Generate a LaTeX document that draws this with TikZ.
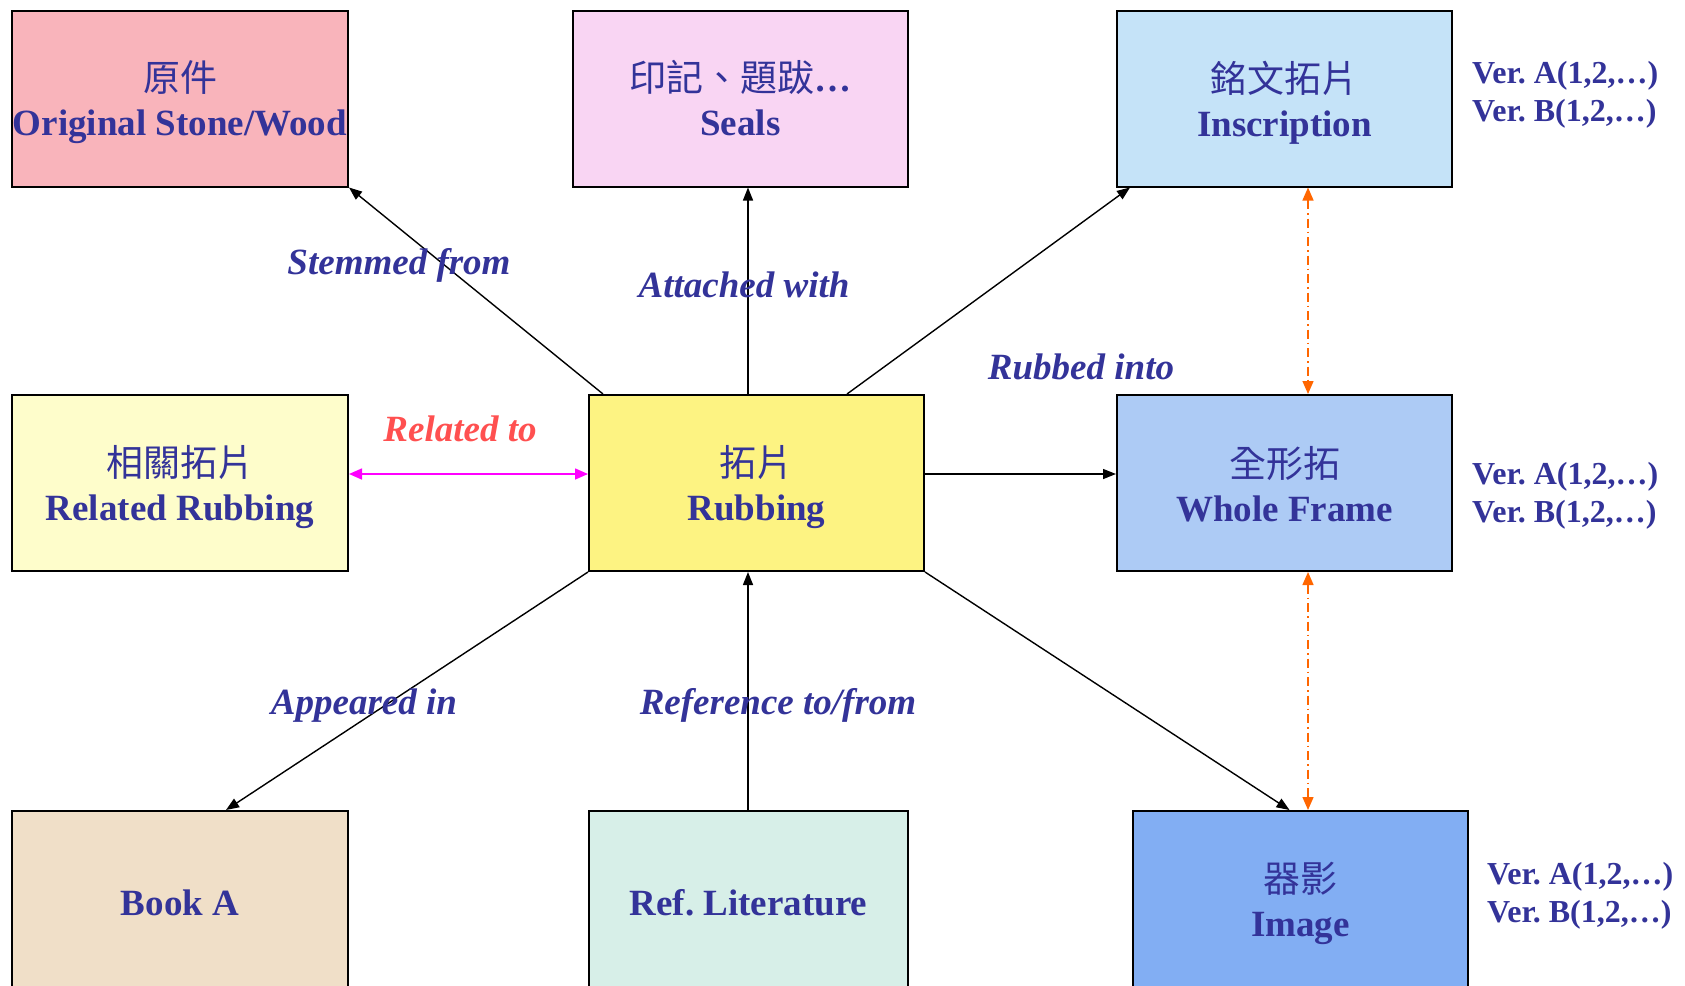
\documentclass[tikz,border=0pt]{standalone}
\usepackage{fontspec}
\setmainfont{Liberation Serif}
\newfontfamily\cjk{Noto Sans CJK TC}
\usetikzlibrary{arrows.meta}
\frenchspacing
\definecolor{txtblue}{HTML}{333399}
\definecolor{relred}{HTML}{FF5050}
\definecolor{cOrig}{HTML}{F9B4BB}
\definecolor{cSeal}{HTML}{F9D5F3}
\definecolor{cInsc}{HTML}{C5E3F8}
\definecolor{cRel}{HTML}{FEFDCB}
\definecolor{cRub}{HTML}{FDF382}
\definecolor{cWhole}{HTML}{ADCBF5}
\definecolor{cBook}{HTML}{F0DFC8}
\definecolor{cRef}{HTML}{D7EFE8}
\definecolor{cImg}{HTML}{82AEF3}
\definecolor{orng}{HTML}{FF6600}
\definecolor{mag}{HTML}{FF00FF}
\tikzset{
  box/.style={draw=black, line width=2pt, minimum width=336pt, minimum height=176pt, inner sep=0pt},
  boxtxt/.style={inner sep=0pt, align=center, text=txtblue, font=\fontsize{37}{44}\selectfont\bfseries},
  arr/.style={line width=1.4pt, -{Triangle[length=13pt,width=10pt]}},
  orarr/.style={draw=orng, line width=1.4pt, dash pattern=on 9pt off 4pt on 1.5pt off 4pt,
    {Triangle[length=13pt,width=11pt]}-{Triangle[length=13pt,width=11pt]}},
  magarr/.style={draw=mag, line width=1.6pt,
    {Triangle[length=13pt,width=11pt]}-{Triangle[length=13pt,width=11pt]}},
  lbl/.style={text=txtblue, font=\fontsize{37}{44}\selectfont\bfseries\itshape, inner sep=0pt},
  ver/.style={text=txtblue, font=\fontsize{32}{38}\selectfont\bfseries, align=left, anchor=west, inner sep=0pt}
}
\begin{document}
\begin{tikzpicture}[x=1pt,y=-1pt]
\useasboundingbox (0,0) rectangle (1685,985);
\clip (0,0) rectangle (1685,985);
% boxes
\node[box, fill=cOrig] (orig) at (180,98.5) {};
\node[box, fill=cSeal, minimum width=335pt] (seals) at (740.5,98.5) {};
\node[box, fill=cInsc, minimum width=335pt] (insc) at (1284.5,98.5) {};
\node[box, fill=cRel] (rel) at (180,483) {};
\node[box, fill=cRub, minimum width=335pt] (rub) at (756.5,483) {};
\node[box, fill=cWhole, minimum width=335pt] (whole) at (1284.5,483) {};
\node[box, fill=cBook] (book) at (180,899) {};
\node[box, fill=cRef, minimum width=319pt] (ref) at (748.5,899) {};
\node[box, fill=cImg, minimum width=335pt] (img) at (1300.5,899) {};
% box texts
\node[boxtxt] (origt) at ([yshift=-4pt]orig.center) {{\cjk\mdseries 原件}\\Original Stone/Wood};
\node[boxtxt] (sealst) at ([yshift=0pt]seals.center) {{\cjk\mdseries 印記、題跋}…\\Seals};
\node[boxtxt] (insct) at ([yshift=-4.5pt]insc.center) {{\cjk\mdseries 銘文拓片}\\Inscription};
\node[boxtxt] (relt) at ([yshift=-4.5pt]rel.center) {{\cjk\mdseries 相關拓片}\\Related Rubbing};
\node[boxtxt] (rubt) at ([yshift=-4.5pt]rub.center) {{\cjk\mdseries 拓片}\\Rubbing};
\node[boxtxt] (wholet) at ([yshift=-1pt]whole.center) {{\cjk\mdseries 全形拓}\\Whole Frame};
\node[boxtxt] (bookt) at ([yshift=-3.5pt]book.center) {Book A};
\node[boxtxt] (reft) at ([yshift=-3.5pt]ref.center) {Ref. Literature};
\node[boxtxt] (imgt) at ([yshift=-4.5pt]img.center) {{\cjk\mdseries 器影}\\Image};
% version notes
\node[ver] (v1) at (1472,95) {Ver. A(1,2,…)\\Ver. B(1,2,…)};
\node[ver] (v2) at (1472,496) {Ver. A(1,2,…)\\Ver. B(1,2,…)};
\node[ver] (v3) at (1487,896) {Ver. A(1,2,…)\\Ver. B(1,2,…)};
% connectors
\draw[arr] ([xshift=15pt]rub.north west) -- (orig.south east);
\draw[arr] ([xshift=-8.5pt]rub.north) -- ([xshift=7.5pt]seals.south);
\draw[arr] ([xshift=-78pt]rub.north east) -- ([xshift=14pt]insc.south west);
\draw[arr] ([yshift=9pt]rub.east) -- ([yshift=9pt]whole.west);
\draw[arr] (rub.south west) -- ([xshift=46pt]book.north);
\draw[arr] ([xshift=-0.5pt]ref.north) -- ([xshift=-8.5pt]rub.south);
\draw[arr] (rub.south east) -- ([xshift=-11pt]img.north);
\draw[magarr] ([yshift=9pt]rel.east) -- ([yshift=9pt]rub.west);
\draw[orarr] ([xshift=23.5pt]insc.south) -- ([xshift=23.5pt]whole.north);
\draw[orarr] ([xshift=23.5pt]whole.south) -- ([xshift=7.5pt]img.north);
% labels
\node[lbl] (l1) at (399,265) {Stemmed from};
\node[lbl] (l2) at (744,285) {Attached with};
\node[lbl] (l3) at (1081,367) {Rubbed into};
\node[lbl, text=relred] (l4) at (460,429) {Related to};
\node[lbl] (l5) at (364,706) {Appeared in};
\node[lbl] (l6) at (778,705) {Reference to/from};
\end{tikzpicture}
\end{document}
